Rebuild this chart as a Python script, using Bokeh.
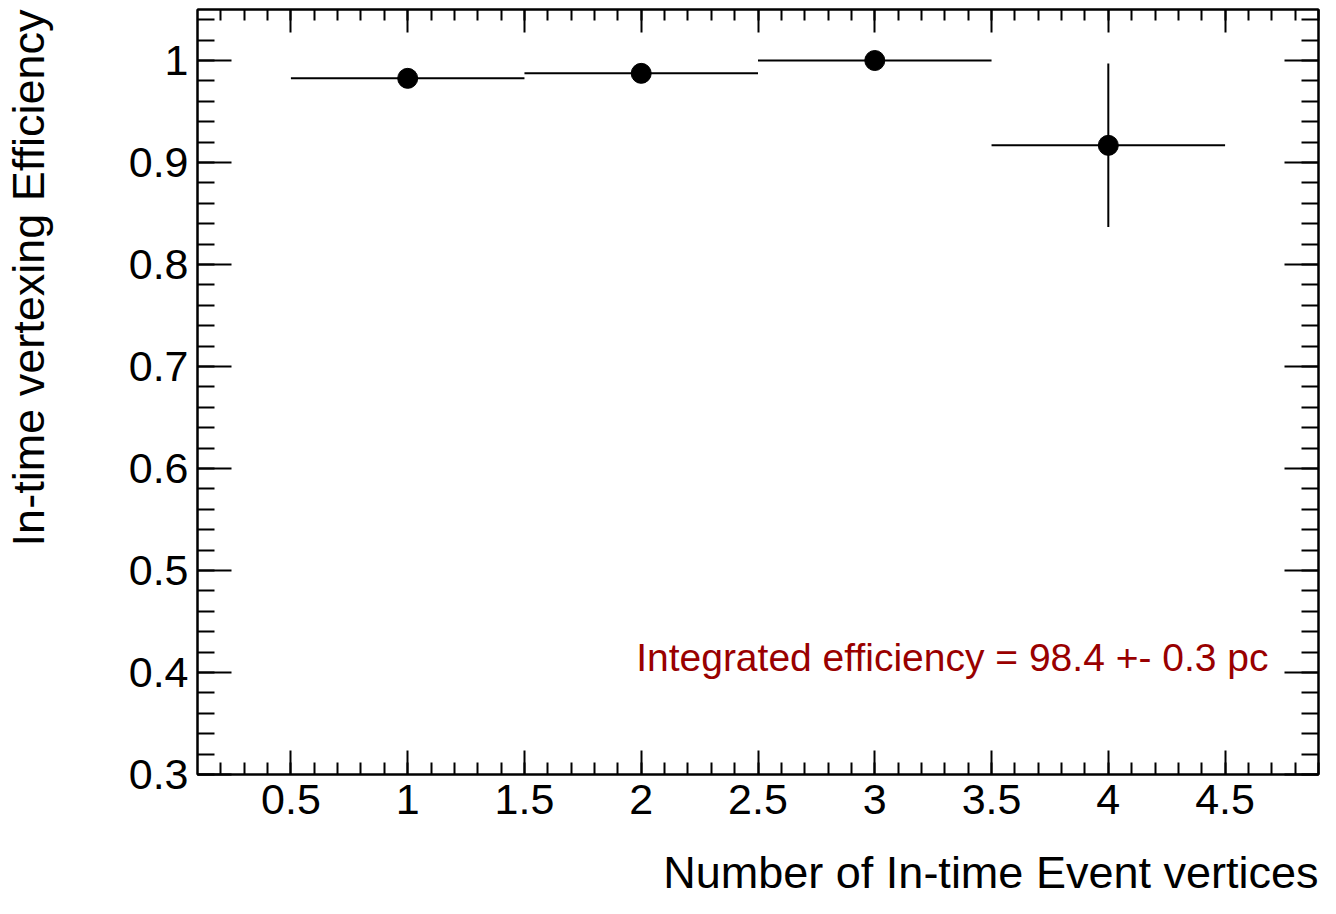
from bokeh.plotting import figure
from bokeh.models import (LinearAxis, SingleIntervalTicker, CustomJSTickFormatter,
                          Label, ColumnDataSource, Range1d, Title)
from bokeh.embed import file_html
from bokeh.resources import INLINE

# ---- data ----
n_vertices = [1, 2, 3, 4]
bin_half_width = [0.5, 0.5, 0.5, 0.5]
efficiency = [0.9825, 0.9874, 1.0, 0.9168]
err_low = [0.004, 0.004, 0.0, 0.0800]
err_high = [0.004, 0.004, 0.0, 0.0803]

x_title = "Number of In-time Event vertices"
y_title = "In-time vertexing Efficiency"
note = "Integrated efficiency = 98.4 +- 0.3 pc"

FONT = "Liberation Sans"

src = ColumnDataSource(dict(
    x=n_vertices, y=efficiency,
    x0=[a - b for a, b in zip(n_vertices, bin_half_width)],
    x1=[a + b for a, b in zip(n_vertices, bin_half_width)],
    y0=[a - b for a, b in zip(efficiency, err_low)],
    y1=[a + b for a, b in zip(efficiency, err_high)],
))

p = figure(width=1320, height=898, output_backend="svg", toolbar_location=None,
           x_range=Range1d(0.1, 4.9), y_range=Range1d(0.3, 1.05),
           x_axis_type=None, y_axis_type=None,
           min_border_left=196, min_border_right=2, min_border_top=9, min_border_bottom=124)
p.background_fill_color = "white"
p.border_fill_color = "white"
p.outline_line_color = "black"
p.outline_line_width = 2
p.xgrid.visible = False
p.ygrid.visible = False

fmt = CustomJSTickFormatter(code="return String(parseFloat(tick.toFixed(3)));")
blank = CustomJSTickFormatter(code="return '';")

def style_axis(ax, major_in, minor_in, labels):
    ax.axis_line_color = "black"
    ax.axis_line_width = 2
    ax.major_tick_line_color = "black"
    ax.minor_tick_line_color = "black"
    ax.major_tick_line_width = 2
    ax.minor_tick_line_width = 2
    ax.major_tick_in = major_in
    ax.major_tick_out = 0
    ax.minor_tick_in = minor_in
    ax.minor_tick_out = 0
    if labels:
        ax.formatter = fmt
        ax.major_label_text_font = FONT
        ax.major_label_text_font_size = "43px"
        ax.major_label_text_color = "black"
    else:
        ax.formatter = blank
        ax.major_label_text_font_size = "0px"
        ax.major_label_standoff = 0

def spacer(ticker, gap):
    # invisible axis used only to push the axis title outwards
    ax = LinearAxis(ticker=ticker, formatter=blank)
    ax.axis_line_color = None
    ax.major_tick_line_color = None
    ax.minor_tick_line_color = None
    ax.major_tick_in = 0
    ax.major_tick_out = gap
    ax.minor_tick_in = 0
    ax.minor_tick_out = 0
    ax.major_label_text_font_size = "0px"
    ax.major_label_standoff = 0
    return ax

xb = LinearAxis(ticker=SingleIntervalTicker(interval=0.5, num_minor_ticks=5))
style_axis(xb, 24, 12, True)
xb.major_label_standoff = 10
p.add_layout(xb, "below")

xt = LinearAxis(ticker=SingleIntervalTicker(interval=0.5, num_minor_ticks=5))
style_axis(xt, 23, 11, False)
p.add_layout(xt, "above")

yl = LinearAxis(ticker=SingleIntervalTicker(interval=0.1, num_minor_ticks=5))
style_axis(yl, 34, 17, True)
yl.major_label_standoff = 9
p.add_layout(yl, "left")

yr = LinearAxis(ticker=SingleIntervalTicker(interval=0.1, num_minor_ticks=5))
style_axis(yr, 34, 17, False)
p.add_layout(yr, "right")

p.add_layout(spacer(SingleIntervalTicker(interval=0.5), 28), "below")
p.add_layout(spacer(SingleIntervalTicker(interval=0.1), 72), "left")

# axis titles (ROOT style: aligned to the axis end)
p.add_layout(Title(text=x_title, align="right", vertical_align="bottom", text_font=FONT,
                   text_font_size="45px", text_font_style="normal", text_color="black",
                   standoff=0), "below")
p.add_layout(Title(text=y_title, align="right", vertical_align="bottom", text_font=FONT,
                   text_font_size="45px", text_font_style="normal", text_color="black",
                   standoff=0), "left")

# error bars and points
p.segment(x0="x0", y0="y", x1="x1", y1="y", source=src, line_color="black", line_width=2)
p.segment(x0="x", y0="y0", x1="x", y1="y1", source=src, line_color="black", line_width=2)
p.scatter(x="x", y="y", source=src, size=20, marker="circle",
          fill_color="black", line_color="black")

p.add_layout(Label(x=4.9, y=0.4, text=note, text_align="right", text_baseline="alphabetic",
                   x_offset=-50, y_offset=15, text_font=FONT, text_font_size="39px",
                   text_color="#990000"))

open("out.html", "w").write(file_html(p, INLINE))
